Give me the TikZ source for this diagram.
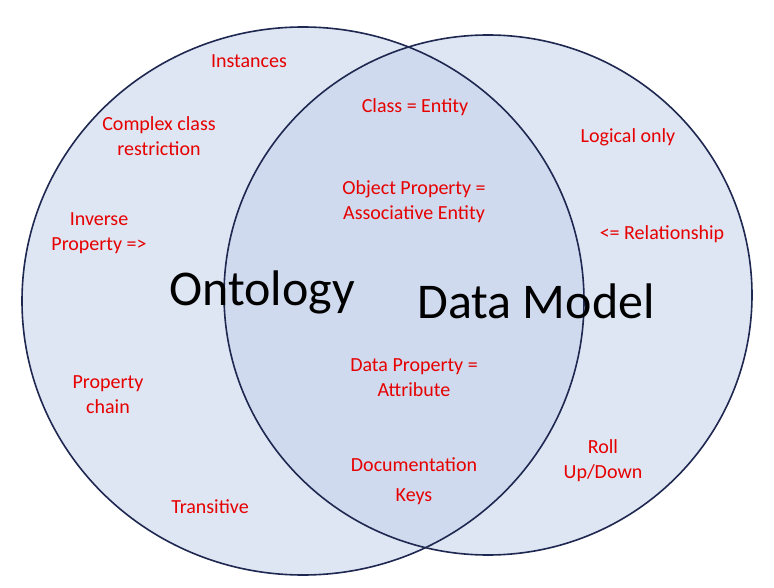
\documentclass[tikz,border=0pt]{standalone}
\usepackage{fontspec}
\setmainfont{Carlito}
\definecolor{ringblue}{RGB}{30,40,80}
\definecolor{fillblue}{RGB}{200,212,236}
\definecolor{labelred}{RGB}{230,0,0}
\tikzset{
  ringfill/.style={fill=fillblue, fill opacity=0.6},
  ring/.style={draw=ringblue, line width=1.6pt},
  lbl/.style={text=labelred, font=\fontsize{20}{25}\selectfont, align=center, inner sep=0pt},
  big/.style={text=black, font=\fontsize{50}{54}\selectfont, inner sep=0pt}
}
\begin{document}
\begin{tikzpicture}[x=1pt, y=-1pt]
\useasboundingbox (0,0) rectangle (774,588);
% the two sets
\fill[white] (0,0) rectangle (774,588);
\fill[ringfill] (303,301) ellipse [x radius=281, y radius=274];
\fill[ringfill] (488,295) ellipse [x radius=264, y radius=260];
\draw[ring] (303,301) ellipse [x radius=281, y radius=274];
\draw[ring] (488,295) ellipse [x radius=264, y radius=260];
% set names
\node (onto) [big] at (262,292) {Ontology};
\node (dm) [big] at (536,301) {Data Model};
% ontology only
\node (inst) [lbl] at (249,61) {Instances};
\node (cplx) [lbl] at (159,136) {Complex class\\restriction};
\node (inv) [lbl] at (99,233) {Inverse\\Property =>};
\node (chain) [lbl] at (108,395) {Property\\chain};
\node (trans) [lbl] at (210,507) {Transitive};
% shared
\node (cls) [lbl] at (415,107) {Class = Entity};
\node (obj) [lbl] at (414,202) {Object Property =\\Associative Entity};
\node (data) [lbl] at (414,378) {Data Property =\\Attribute};
\node (doc) [lbl] at (414,465) {Documentation};
\node (keys) [lbl] at (414,497) {Keys};
% data model only
\node (logic) [lbl] at (628,137) {Logical only};
\node (rel) [lbl] at (662,234) {<= Relationship};
\node (roll) [lbl] at (603,461) {Roll\\Up/Down};
\end{tikzpicture}
\end{document}
